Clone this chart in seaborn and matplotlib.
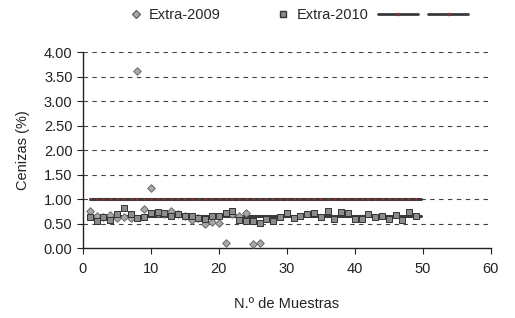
import numpy as np
import pandas as pd
import matplotlib
matplotlib.use("Agg")
from matplotlib import pyplot as plt
from matplotlib.lines import Line2D
import seaborn as sns

# data ##########################################################################
muestras_2009 = list(range(1, 27))
cenizas_2009 = [0.76, 0.66, 0.64, 0.67, 0.62, 0.63, 0.61, 3.62, 0.79, 1.22,
                0.72, 0.70, 0.76, 0.70, 0.66, 0.57, 0.62, 0.50, 0.53, 0.52,
                0.10, 0.70, 0.66, 0.71, 0.09, 0.11]

muestras_2010 = list(range(1, 50))
cenizas_2010 = [0.64, 0.55, 0.63, 0.57, 0.69, 0.82, 0.69, 0.61, 0.63, 0.72,
                0.74, 0.72, 0.66, 0.69, 0.66, 0.66, 0.62, 0.59, 0.66, 0.66,
                0.72, 0.76, 0.57, 0.55, 0.55, 0.52, 0.60, 0.55, 0.64, 0.72,
                0.62, 0.66, 0.69, 0.72, 0.63, 0.76, 0.59, 0.73, 0.72, 0.60,
                0.59, 0.70, 0.64, 0.65, 0.60, 0.67, 0.57, 0.73, 0.66]

limite_x = [1, 49.8]
limite_y = [1.01, 1.01]
media_x = [1, 49.8]
media_y = [0.66, 0.66]

y_ticks = [0.0, 0.5, 1.0, 1.5, 2.0, 2.5, 3.0, 3.5, 4.0]
x_ticks = [0, 10, 20, 30, 40, 50, 60]

# figure ########################################################################
sns.set_style("white")
plt.rcParams["font.family"] = ["Liberation Sans", "DejaVu Sans"]

fig = plt.figure(figsize=(5.15, 3.18), dpi=100)
ax = fig.add_axes([0.161, 0.22, 0.792, 0.616])

for y in y_ticks[1:]:
    ax.axhline(y, color="#444444", lw=0.8, ls=(0, (4, 4)), zorder=0)

df09 = pd.DataFrame({"x": muestras_2009, "y": cenizas_2009})
df10 = pd.DataFrame({"x": muestras_2010, "y": cenizas_2010})
dfl = pd.DataFrame({"x": limite_x, "y": limite_y})
dfm = pd.DataFrame({"x": media_x, "y": media_y})

sns.lineplot(data=dfl, x="x", y="y", ax=ax, color="#3a3a3a", lw=2.2, zorder=2)
sns.lineplot(data=dfm, x="x", y="y", ax=ax, color="#3a3a3a", lw=2.2, zorder=2)
# small reddish dots along the limit line
ax.plot(np.arange(1, 50), [limite_y[0]] * 49, ls="none", marker="o",
        ms=1.0, color="#8a3030", zorder=3)

sns.scatterplot(data=df09, x="x", y="y", ax=ax, marker="D", s=15,
                color="#a8a8a8", edgecolor="#6a6a6a", linewidth=0.7, zorder=4)
sns.scatterplot(data=df10, x="x", y="y", ax=ax, marker="s", s=24,
                color="#8c8c8c", edgecolor="#333333", linewidth=0.7, zorder=5)

ax.set_xlim(0, 60)
ax.set_ylim(0, 4)
ax.set_xticks(x_ticks)
ax.set_yticks(y_ticks)
ax.set_yticklabels([f"{v:.2f}" for v in y_ticks])
ax.tick_params(axis="both", labelsize=10.5, length=4, width=0.8,
               colors="#222222", direction="out", bottom=True, left=True)
ax.tick_params(axis="x", pad=6)

for s in ["top", "right"]:
    ax.spines[s].set_visible(False)
for s in ["left", "bottom"]:
    ax.spines[s].set_color("#222222")
    ax.spines[s].set_linewidth(1.0)

ax.set_xlabel("N.º de Muestras", fontsize=10.5, color="#222222", labelpad=15)
ax.set_ylabel("Cenizas (%)", fontsize=10.5, color="#222222", labelpad=10)

# legend: markers and lines in two groups (different handle lengths)
marker_handles = [
    Line2D([], [], ls="none", marker="D", ms=4, color="#a8a8a8",
           markeredgecolor="#6a6a6a"),
    Line2D([], [], ls="none", marker="s", ms=5, color="#8c8c8c",
           markeredgecolor="#333333"),
]
leg1 = fig.legend(marker_handles, ["Extra-2009", "Extra-2010"],
                  loc="center", bbox_to_anchor=(249 / 515, 0.953), ncol=2,
                  frameon=False, fontsize=10.5, handlelength=0.8,
                  columnspacing=3.9, handletextpad=0.5, borderpad=0)
line_handles = [
    Line2D([], [], color="#3a3a3a", lw=2, marker="o", ms=1.5,
           markerfacecolor="#8a3030", markeredgecolor="#8a3030"),
    Line2D([], [], color="#3a3a3a", lw=2, marker="o", ms=1.5,
           markerfacecolor="#8a3030", markeredgecolor="#8a3030"),
]
leg2 = fig.legend(line_handles, ["", ""], loc="center",
                  bbox_to_anchor=(423 / 515, 0.953), ncol=2, frameon=False,
                  fontsize=10.5, handlelength=2.74, columnspacing=0.7,
                  handletextpad=0.0, borderpad=0)

fig.savefig("out.png", dpi=100)
